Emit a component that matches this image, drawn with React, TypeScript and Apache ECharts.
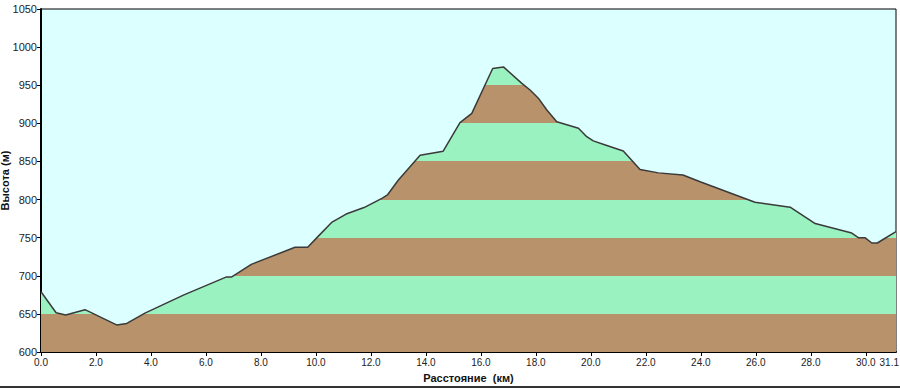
import React, { useEffect, useRef } from "react";
import * as echarts from "echarts";

// Distance (km)
const distances = [
  0, 0.55, 0.9, 1.6, 2.75, 3.12, 3.78, 5.2, 6.75, 6.94, 7.65, 9.24, 9.7, 10.09,
  10.57, 11.1, 11.75, 12.4, 12.6, 13.0, 13.79, 14.63, 15.24, 15.67, 16.43, 16.82,
  17.49, 17.79, 18.09, 18.4, 18.76, 19.55, 19.85, 20.09, 20.5, 21.18, 21.79, 22.46,
  23.35, 24.0, 25.97, 27.25, 28.16, 29.49, 29.73, 29.97, 30.22, 30.42, 31.1,
];
// Elevation (m)
const elevations = [
  679, 651.5, 648.5, 655.5, 635.5, 637.5, 651, 675, 698.5, 698.5, 715, 737.4, 737.4, 752,
  770, 781, 789.5, 801.6, 806, 825.7, 858, 863.5, 901, 913, 972, 974,
  952.5, 943.7, 933, 917.5, 902, 893.5, 882.5, 877, 872, 863.7, 839.5, 835,
  832.2, 823, 796.4, 790, 768.5, 756, 750, 750, 743, 743, 758,
];
// Elevation bands (m) and their colours
const bandEdges = [600, 650, 700, 750, 800, 850, 900, 950, 1000];
const bandColors = ["#b8926a", "#99f2bf"];

const xMin = 0;
const xMax = 31.1;
const yMin = 600;
const yMax = 1050;

export default function App() {
  const ref = useRef<HTMLDivElement>(null);

  useEffect(() => {
    if (!ref.current) return;
    const chart = echarts.init(ref.current, null, { renderer: "svg" });
    const data = distances.map((d, i) => [d, elevations[i]]);
    const pieces = bandEdges.slice(0, -1).map((lo, i) => ({
      gte: lo,
      lt: bandEdges[i + 1],
      color: bandColors[i % 2],
    }));
    const textStyle = {
      fontFamily: "Liberation Sans, Arial, sans-serif",
      fontSize: 11,
      color: "#222",
    };
    chart.setOption({
      animation: false,
      backgroundColor: "#ffffff",
      grid: {
        left: 41,
        right: 4,
        top: 9,
        bottom: 36,
        containLabel: false,
        outerBoundsMode: "none",
        show: true,
        backgroundColor: "#dcffff",
        borderColor: "#000",
        borderWidth: 1,
      },
      visualMap: {
        type: "piecewise",
        show: false,
        dimension: 1,
        seriesIndex: 0,
        pieces,
        outOfRange: { color: bandColors[0] },
      },
      xAxis: {
        type: "value",
        min: xMin,
        max: xMax,
        interval: 2,
        name: "Расстояние  (км)",
        nameLocation: "middle",
        nameGap: 20,
        nameMoveOverlap: false,
        nameTextStyle: { ...textStyle, fontWeight: "bold", color: "#111" },
        axisLine: { show: true, lineStyle: { color: "#000", width: 2 } },
        axisTick: { show: true, length: 4, lineStyle: { color: "#000", width: 1 } },
        axisLabel: {
          ...textStyle,
          fontSize: 10,
          margin: 5,
          showMaxLabel: false,
          formatter: (v: number) => v.toFixed(1),
        },
        splitLine: { show: false },
      },
      yAxis: {
        type: "value",
        min: yMin,
        max: yMax,
        interval: 50,
        name: "Высота (м)",
        nameLocation: "middle",
        nameGap: 31,
        nameMoveOverlap: false,
        nameTextStyle: { ...textStyle, fontWeight: "bold", color: "#111" },
        axisLine: { show: true, lineStyle: { color: "#000", width: 2 } },
        axisTick: { show: true, length: 4, lineStyle: { color: "#000", width: 1 } },
        axisLabel: { ...textStyle, margin: 4, formatter: (v: number) => String(v) },
        splitLine: { show: false },
      },
      series: [
        {
          type: "line",
          data,
          symbol: "none",
          lineStyle: { width: 0 },
          areaStyle: { opacity: 1, origin: "start" },
          z: 1,
        },
        {
          type: "line",
          data,
          symbol: "none",
          lineStyle: { width: 1.5, color: "#3a3a3a" },
          itemStyle: { color: "#3a3a3a" },
          z: 3,
        },
      ],
    });

    // Max distance label, placed through the axis scale and right-aligned
    const maxPx = chart.convertToPixel({ xAxisIndex: 0 }, xMax) as number;
    const zeroPx = chart.convertToPixel({ yAxisIndex: 0 }, yMin) as number;
    chart.setOption({
      graphic: [
        {
          type: "rect",
          shape: { x: 0, y: 386, width: 900, height: 2 },
          style: { fill: "#333" },
          silent: true,
        },
        {
          type: "text",
          x: maxPx + 3,
          y: zeroPx + 5,
          style: {
            text: xMax.toFixed(1),
            align: "right",
            verticalAlign: "top",
            fontFamily: textStyle.fontFamily,
            fontSize: 10,
            fill: "#222",
          },
          silent: true,
        },
      ],
    });
    return () => chart.dispose();
  }, []);

  return (
    <div
      ref={ref}
      style={{ position: "fixed", left: 0, top: 0, width: 900, height: 388 }}
    />
  );
}
